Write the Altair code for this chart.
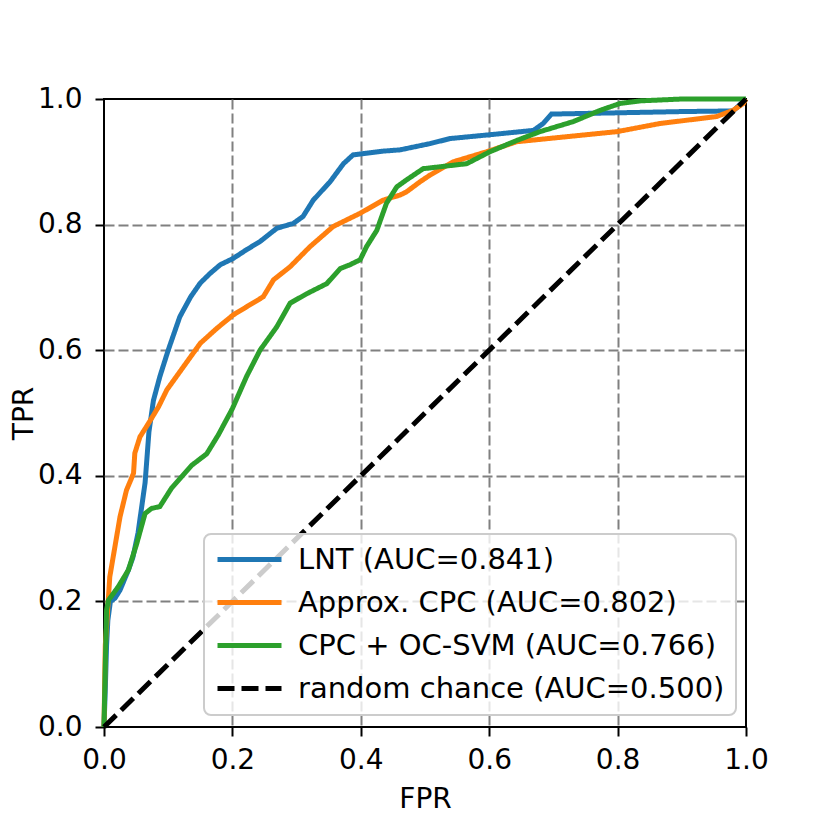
import altair as alt
import pandas as pd

series_names = ["LNT (AUC=0.841)", "Approx. CPC (AUC=0.802)",
                "CPC + OC-SVM (AUC=0.766)", "random chance (AUC=0.500)"]
series_colors = ["#1f77b4", "#ff7f0e", "#2ca02c", "#000000"]

lnt_fpr = [0, 0.002, 0.004, 0.006, 0.01, 0.017, 0.025, 0.038, 0.045, 0.053, 0.064, 0.07, 0.077,
           0.087, 0.1, 0.118, 0.135, 0.15, 0.165, 0.181, 0.201, 0.222, 0.243, 0.269, 0.295,
           0.31, 0.326, 0.352, 0.373, 0.388, 0.435, 0.461, 0.508, 0.539, 0.6, 0.669, 0.684,
           0.697, 0.8, 0.9, 0.98, 1.0]
lnt_tpr = [0, 0.06, 0.13, 0.17, 0.2, 0.205, 0.218, 0.25, 0.27, 0.309, 0.389, 0.47, 0.52,
           0.558, 0.6, 0.653, 0.685, 0.707, 0.722, 0.736, 0.746, 0.76, 0.773, 0.794, 0.802,
           0.813, 0.839, 0.868, 0.897, 0.911, 0.917, 0.919, 0.929, 0.937, 0.943, 0.95, 0.961,
           0.976, 0.978, 0.98, 0.981, 1.0]

cpc_fpr = [0, 0.002, 0.004, 0.009, 0.017, 0.025, 0.035, 0.046, 0.048, 0.056, 0.069, 0.085,
           0.098, 0.124, 0.15, 0.176, 0.201, 0.222, 0.248, 0.264, 0.29, 0.321, 0.357, 0.399,
           0.435, 0.461, 0.471, 0.492, 0.508, 0.544, 0.596, 0.643, 0.721, 0.799, 0.866, 0.954,
           0.98, 0.996, 1.0]
cpc_tpr = [0, 0.13, 0.16, 0.239, 0.287, 0.335, 0.377, 0.404, 0.436, 0.462, 0.483, 0.51,
           0.537, 0.574, 0.611, 0.635, 0.656, 0.669, 0.685, 0.712, 0.733, 0.765, 0.797, 0.818,
           0.839, 0.847, 0.852, 0.868, 0.879, 0.9, 0.916, 0.932, 0.94, 0.948, 0.961, 0.972,
           0.982, 0.993, 1.0]

svm_fpr = [0, 0.002, 0.004, 0.007, 0.022, 0.038, 0.051, 0.064, 0.074, 0.087, 0.105, 0.137,
           0.16, 0.178, 0.2, 0.222, 0.243, 0.269, 0.29, 0.316, 0.347, 0.368, 0.383, 0.399,
           0.409, 0.425, 0.44, 0.456, 0.471, 0.497, 0.565, 0.601, 0.643, 0.679, 0.731, 0.773,
           0.804, 0.835, 0.9, 1.0]
svm_tpr = [0, 0.1, 0.186, 0.202, 0.223, 0.25, 0.292, 0.34, 0.348, 0.351, 0.38, 0.417,
           0.435, 0.465, 0.507, 0.558, 0.6, 0.637, 0.675, 0.69, 0.706, 0.73, 0.736, 0.744,
           0.765, 0.791, 0.834, 0.86, 0.871, 0.889, 0.897, 0.916, 0.934, 0.948, 0.964, 0.982,
           0.993, 0.997, 1.0, 1.0]

rand_fpr = [0.0, 1.0]
rand_tpr = [0.0, 1.0]

tick_values = [0.0, 0.2, 0.4, 0.6, 0.8, 1.0]

rows = []
for name, xs, ys in zip(series_names,
                        [lnt_fpr, cpc_fpr, svm_fpr, rand_fpr],
                        [lnt_tpr, cpc_tpr, svm_tpr, rand_tpr]):
    for i, (x, y) in enumerate(zip(xs, ys)):
        rows.append({"series": name, "FPR": x, "TPR": y, "order": i})
df = pd.DataFrame(rows)

FONT = "DejaVu Sans"
FS = 28
grid_op = alt.condition("datum.value === 0 || datum.value === 1", alt.value(0), alt.value(1))

legend = alt.Legend(
    title=None, orient="none", legendX=100, legendY=435,
    symbolType="stroke", symbolSize=4096, symbolStrokeWidth=5,
    labelFont=FONT, labelFontSize=29, labelColor="black", labelOffset=14,
    labelLimit=600,
    rowPadding=13, clipHeight=29, padding=11,
    fillColor="rgba(255,255,255,0.8)", strokeColor="#cccccc", cornerRadius=7,
)

chart = alt.Chart(df).mark_line(strokeWidth=5, clip=False).encode(
    x=alt.X("FPR:Q", scale=alt.Scale(domain=[0, 1], nice=False, zero=False),
            axis=alt.Axis(values=tick_values, format=".1f", title="FPR",
                          titleX=321, titleY=80, titleBaseline="alphabetic",
                          labelPadding=10, labelFlush=False, gridOpacity=grid_op)),
    y=alt.Y("TPR:Q", scale=alt.Scale(domain=[0, 1], nice=False, zero=False),
            axis=alt.Axis(values=tick_values, format=".1f", title="TPR",
                          titleX=-72, titleY=314, titleBaseline="alphabetic",
                          labelPadding=13, labelFlush=False, gridOpacity=grid_op)),
    color=alt.Color("series:N", scale=alt.Scale(domain=series_names, range=series_colors),
                    legend=legend),
    strokeDash=alt.StrokeDash("series:N",
                              scale=alt.Scale(domain=series_names,
                                              range=[[1, 0], [1, 0], [1, 0], [17, 7]]),
                              legend=legend),
    order="order:Q",
).properties(
    width=642, height=628,
    background="white",
    autosize=alt.AutoSizeParams(type="none"),
    padding={"left": 96, "top": 91, "right": 60, "bottom": 90},
).configure_view(
    stroke="black", strokeWidth=2,
).configure_axis(
    domain=False, grid=True, gridColor="#808080", gridDash=[10, 4], gridWidth=2,
    ticks=True, tickSize=9, tickWidth=2, tickColor="black",
    labelFont=FONT, labelFontSize=FS, labelColor="black",
    titleFont=FONT, titleFontSize=FS, titleFontWeight="normal", titleColor="black",
).configure_legend(
    strokeWidth=2,
)

chart.save("out.html", embed_options={"renderer": "svg", "actions": False})
